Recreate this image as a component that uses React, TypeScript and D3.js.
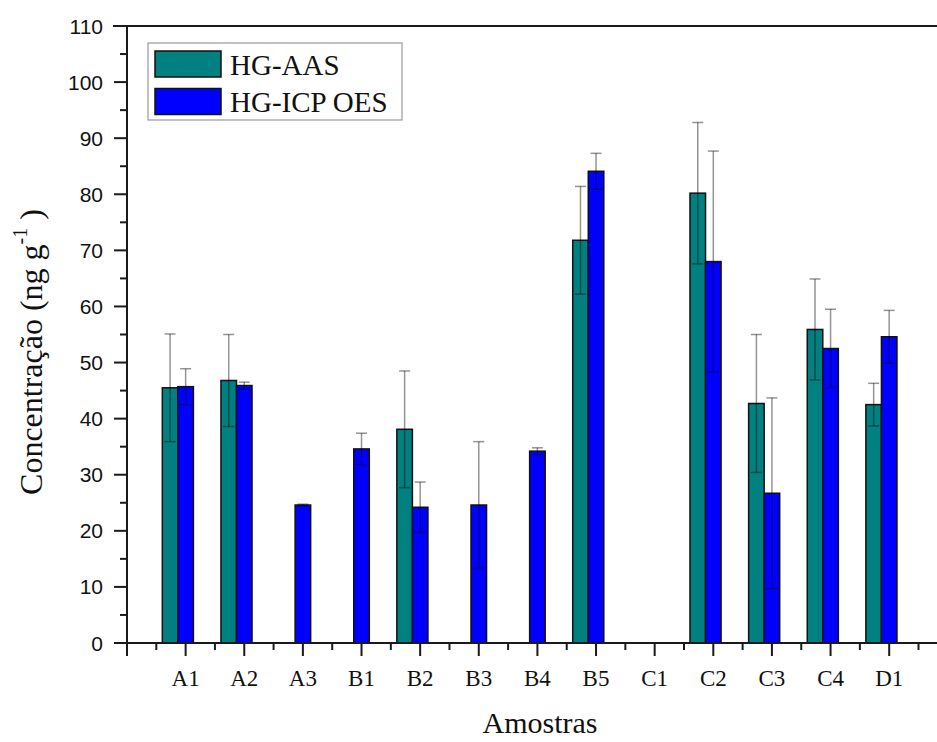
import React from "react";
import * as d3 from "d3";

// Sample codes on the x axis
const categories = ["A1", "A2", "A3", "B1", "B2", "B3", "B4", "B5", "C1", "C2", "C3", "C4", "D1"];

// Mean concentrations (ng g-1); null = not determined
const aasValues: (number | null)[] = [45.5, 46.8, null, null, 38.1, null, null, 71.8, null, 80.2, 42.7, 55.9, 42.5];
const aasErrors: (number | null)[] = [9.6, 8.2, null, null, 10.4, null, null, 9.6, null, 12.6, 12.3, 9.0, 3.8];

const icpValues: (number | null)[] = [45.7, 45.9, 24.6, 34.6, 24.2, 24.6, 34.2, 84.1, null, 68.0, 26.7, 52.5, 54.6];
const icpErrors: (number | null)[] = [3.2, 0.6, 0.15, 2.8, 4.5, 11.3, 0.6, 3.2, null, 19.7, 17.0, 7.0, 4.7];

const yTicks = [0, 10, 20, 30, 40, 50, 60, 70, 80, 90, 100, 110];

const W = 937;
const H = 742;
const X0 = 127;
const STEP = 58.63;
const Y0 = 643;
const YTOP = 26;

const AAS_COLOR = "#008080";
const ICP_COLOR = "#0000FF";
const AXIS = "#1a1a1a";
const BAR_W = 0.265; // in category units

export default function App() {
  const x = d3.scaleLinear().domain([0, 14]).range([X0, X0 + 14 * STEP]);
  const y = d3.scaleLinear().domain([0, 110]).range([Y0, YTOP]);
  const bw = x(BAR_W) - x(0);

  const series = [
    { name: "HG-AAS", values: aasValues, errors: aasErrors, color: AAS_COLOR, offset: -1.5 },
    { name: "HG-ICP OES", values: icpValues, errors: icpErrors, color: ICP_COLOR, offset: -0.5 },
  ];

  const majorX = d3.range(0, 15);
  const minorX = d3.range(0, 14).map((i) => i + 0.5);
  const minorY = d3.range(5, 110, 10);
  const capW = 11;

  return (
    <svg
      width={W}
      height={H}
      style={{ position: "absolute", left: 0, top: 0, background: "#fff" }}
      xmlns="http://www.w3.org/2000/svg"
    >
      <rect x={0} y={0} width={W} height={H} fill="#fff" />

      {/* bars and error bars */}
      {series.map((s) => (
        <g key={s.name}>
          {categories.map((c, i) => {
            const v = s.values[i];
            if (v == null) return null;
            const cx = x(i + 1);
            const left = cx + s.offset * bw;
            const mid = left + bw / 2;
            const e = s.errors[i] ?? 0;
            return (
              <g key={c}>
                <rect
                  x={left}
                  y={y(v)}
                  width={bw}
                  height={y(0) - y(v)}
                  fill={s.color}
                  stroke="#111"
                  strokeWidth={1.5}
                />
                <g stroke="#000" strokeOpacity={0.42} strokeWidth={1.5}>
                  <line x1={mid} x2={mid} y1={y(v + e)} y2={y(Math.max(0, v - e))} />
                  <line x1={mid - capW / 2} x2={mid + capW / 2} y1={y(v + e)} y2={y(v + e)} />
                  <line x1={mid - capW / 2} x2={mid + capW / 2} y1={y(v - e)} y2={y(v - e)} />
                </g>
              </g>
            );
          })}
        </g>
      ))}

      {/* frame lines */}
      <line x1={X0} x2={W + 20} y1={Y0} y2={Y0} stroke={AXIS} strokeWidth={2} />
      <line x1={X0 - 14} x2={W + 20} y1={YTOP} y2={YTOP} stroke={AXIS} strokeWidth={2} />
      <line x1={X0} x2={X0} y1={YTOP} y2={Y0} stroke={AXIS} strokeWidth={2} />

      {/* y axis ticks and labels */}
      {yTicks.map((t) => (
        <g key={t}>
          <line x1={X0 - 13} x2={X0} y1={y(t)} y2={y(t)} stroke={AXIS} strokeWidth={2} />
          <text
            x={X0 - 24}
            y={y(t)}
            dy="0.36em"
            textAnchor="end"
            fontFamily="'Liberation Sans', Arial, sans-serif"
            fontSize={21}
            fill="#111"
          >
            {t}
          </text>
        </g>
      ))}
      {minorY.map((t) => (
        <line key={t} x1={X0 - 7} x2={X0} y1={y(t)} y2={y(t)} stroke={AXIS} strokeWidth={2} />
      ))}

      {/* x axis ticks and labels */}
      {majorX.map((t) => (
        <line key={t} x1={x(t)} x2={x(t)} y1={Y0} y2={Y0 + 13} stroke={AXIS} strokeWidth={2} />
      ))}
      {minorX.map((t) => (
        <line key={t} x1={x(t)} x2={x(t)} y1={Y0} y2={Y0 + 7} stroke={AXIS} strokeWidth={2} />
      ))}
      {categories.map((c, i) => (
        <text
          key={c}
          x={x(i + 1)}
          y={686}
          textAnchor="middle"
          fontFamily="'Liberation Serif', 'Times New Roman', serif"
          fontSize={23}
          fill="#111"
        >
          {c}
        </text>
      ))}

      {/* axis titles */}
      <text
        x={540}
        y={733}
        textAnchor="middle"
        fontFamily="'Liberation Serif', 'Times New Roman', serif"
        fontSize={30}
        fill="#111"
      >
        Amostras
      </text>
      <text
        transform="translate(42,352) rotate(-90)"
        textAnchor="middle"
        fontFamily="'Liberation Serif', 'Times New Roman', serif"
        fontSize={32}
        fill="#111"
      >
        Concentração (ng g
        <tspan fontSize={20} dy={-15}>-1</tspan>
        <tspan dy={15}> )</tspan>
      </text>

      {/* legend */}
      <g>
        <rect x={148} y={43} width={254} height={77} fill="#fff" stroke="#999" strokeWidth={1.2} />
        {series.map((s, i) => (
          <g key={s.name}>
            <rect
              x={155}
              y={51 + i * 37.5}
              width={66}
              height={26}
              fill={s.color}
              stroke="#111"
              strokeWidth={1.5}
            />
            <text
              x={230}
              y={75 + i * 37}
              fontFamily="'Liberation Serif', 'Times New Roman', serif"
              fontSize={29}
              fill="#111"
            >
              {s.name}
            </text>
          </g>
        ))}
      </g>
    </svg>
  );
}
